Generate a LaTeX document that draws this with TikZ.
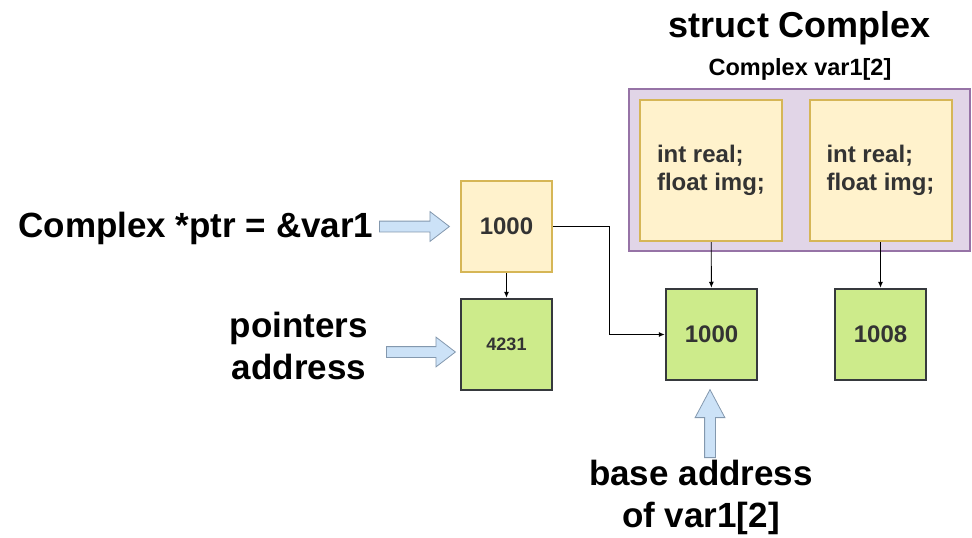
\documentclass[tikz,border=0pt]{standalone}
\usepackage{fontspec}
\setmainfont{Liberation Sans}
\usetikzlibrary{arrows.meta,shapes.arrows,positioning}

\definecolor{structfill}{HTML}{E1D5E7}
\definecolor{structline}{HTML}{9673A6}
\definecolor{fieldfill}{HTML}{FFF2CC}
\definecolor{fieldline}{HTML}{D6B656}
\definecolor{addrfill}{HTML}{CDEB8B}
\definecolor{addrline}{HTML}{36393D}
\definecolor{hintfill}{HTML}{CCE2F7}
\definecolor{hintline}{HTML}{8398AE}
\definecolor{boxtext}{HTML}{333333}

\begin{document}
\begin{tikzpicture}[
    x=1pt, y=-1pt,
    font=\bfseries,
    >={Latex[length=6pt,width=5pt]},
    every node/.style={align=center},
    label/.style={font=\bfseries\fontsize{35}{42}\selectfont},
    title/.style={font=\bfseries\fontsize{36}{42}\selectfont},
    structbox/.style={draw=structline, fill=structfill, line width=2.5pt, minimum width=341pt, minimum height=162pt},
    field/.style={draw=fieldline, fill=fieldfill, line width=2pt, minimum width=142pt, minimum height=141pt,
                  align=left, text=boxtext, font=\bfseries\fontsize{24}{28}\selectfont},
    ptrbox/.style={draw=fieldline, fill=fieldfill, line width=2pt, minimum width=91pt, minimum height=91pt,
                   text=boxtext, font=\bfseries\fontsize{24}{28}\selectfont},
    addr/.style={draw=addrline, fill=addrfill, line width=2.5pt, minimum width=91pt, minimum height=91pt,
                 text=boxtext, font=\bfseries\fontsize{24}{28}\selectfont},
    hint/.style={single arrow, draw=hintline, fill=hintfill, line width=0.8pt, inner sep=5pt,
                 single arrow head extend=9.5pt, anchor=tail},
    link/.style={->, line width=0.9pt}
  ]
    \useasboundingbox (0,0) rectangle (972,538);

    % struct with its two elements
    \node[title] (title) at (800,28) {struct Complex};
    \node[font=\bfseries\fontsize{23.5}{28}\selectfont] (arr) at (800,69) {Complex var1[2]};
    \node[structbox] (var) at (799.5,170) {};
    \node[field] (f1) at (711,170.5) {int real;\\float img;};
    \node[field] (f2) at (880.5,170.5) {int real;\\float img;};

    % addresses of the elements
    \node[addr] (a1) at (711.5,334.5) {1000};
    \node[addr] (a2) at (880.5,334.5) {1008};

    % pointer and its own address
    \node[ptrbox] (ptr) at (506.5,226.5) {1000};
    \node[addr, font=\bfseries\fontsize{18}{22}\selectfont] (paddr) at (506.5,344.5) {4231};

    % labels
    \node[label, anchor=east] (decl) at (377,228) {Complex *ptr = \&var1};
    \node[label] (plabel) at (299,346) {pointers\\address};
    \node[label] (blabel) at (701,497) {base address\\of var1[2]};

    % hint arrows
    \node[hint, minimum height=70pt, single arrow tip angle=75] (h1) at (379,226.5) {};
    \node[hint, minimum height=69pt, single arrow tip angle=75] (h2) at (386,352) {};
    \node[hint, minimum height=68pt, single arrow tip angle=56, shape border rotate=90] (h3) at (710,458) {};

    % connectors
    \draw[link] (ptr) -- (paddr);
    \draw[link] (ptr.east) -- ++(56,0) |- (a1.west);
    \draw[link] (f1) -- (a1);
    \draw[link] (f2) -- (a2);
\end{tikzpicture}
\end{document}
